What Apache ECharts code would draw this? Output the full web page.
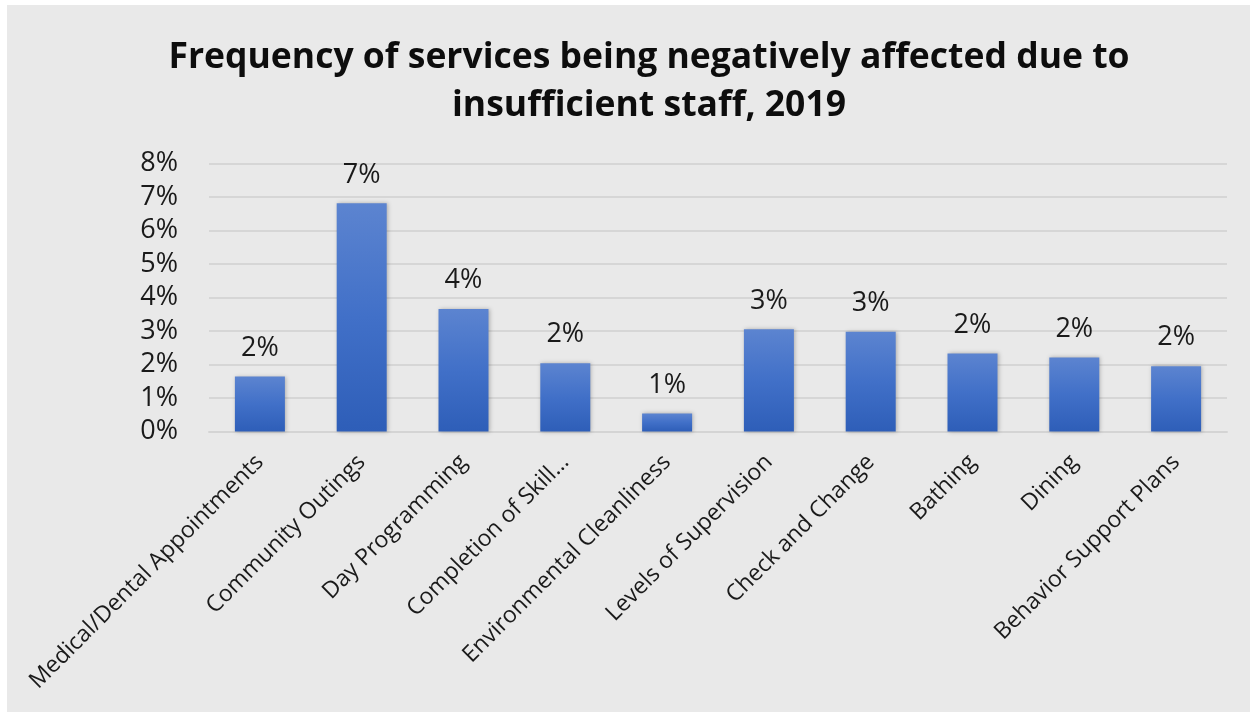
<!DOCTYPE html>
<html>
<head>
<meta charset="utf-8">
<script src="https://cdn.jsdelivr.net/npm/echarts@6/dist/echarts.min.js"></script>
<style>
  html, body { margin: 0; padding: 0; background: #ffffff; }
  #chart { position: absolute; left: 7px; top: 5px; width: 1243px; height: 707px; }
</style>
</head>
<body>
<div id="chart"></div>
<script>
// Services affected by staffing shortfalls (share of responses, %)
const categories = [
  'Medical/Dental Appointments',
  'Community Outings',
  'Day Programming',
  'Completion of Skill…',
  'Environmental Cleanliness',
  'Levels of Supervision',
  'Check and Change',
  'Bathing',
  'Dining',
  'Behavior Support Plans'
];
const values = [1.64, 6.81, 3.66, 2.04, 0.54, 3.05, 2.98, 2.33, 2.21, 1.95];
const yTicks = { min: 0, max: 8, interval: 1 };

const FONT = '"Open Sans", Lato, sans-serif';
const chart = echarts.init(document.getElementById('chart'), null, { renderer: 'canvas' });

chart.setOption({
  backgroundColor: '#e9e9e9',
  animation: false,
  title: {
    text: 'Frequency of services being negatively affected due to\ninsufficient staff, 2019',
    left: 637,
    top: 24,
    textAlign: 'center',
    textStyle: {
      fontFamily: FONT,
      fontWeight: 'bold',
      fontSize: 35.5,
      lineHeight: 48,
      color: '#0d0d0d'
    }
  },
  grid: { left: 202, right: 23, top: 158.5, bottom: 280.5, containLabel: false },
  xAxis: {
    type: 'category',
    data: categories,
    axisLine: { show: true, lineStyle: { color: '#d4d4d4', width: 2 } },
    axisTick: { show: false },
    axisLabel: {
      rotate: 45,
      interval: 0,
      margin: 27,
      fontFamily: FONT,
      fontSize: 23,
      color: '#1a1a1a'
    }
  },
  yAxis: {
    type: 'value',
    min: yTicks.min,
    max: yTicks.max,
    interval: yTicks.interval,
    axisLine: { show: false },
    axisTick: { show: false },
    splitLine: { lineStyle: { color: '#d6d6d6', width: 2 } },
    axisLabel: {
      margin: 31,
      fontFamily: FONT,
      fontSize: 27,
      color: '#1a1a1a',
      formatter: v => v + '%'
    }
  },
  series: [{
    type: 'bar',
    data: values,
    barWidth: 50,
    itemStyle: {
      color: new echarts.graphic.LinearGradient(0, 0, 0, 1, [
        { offset: 0, color: '#5c84d0' },
        { offset: 0.5, color: '#4170c8' },
        { offset: 1, color: '#2e5eb8' }
      ]),
      shadowColor: 'rgba(0,0,0,0.25)',
      shadowBlur: 4,
      shadowOffsetX: 1,
      shadowOffsetY: 0
    },
    label: {
      show: true,
      position: 'top',
      distance: 15,
      fontFamily: FONT,
      fontSize: 27,
      color: '#1a1a1a',
      formatter: p => Math.round(p.value) + '%'
    }
  }]
});
</script>
</body>
</html>
